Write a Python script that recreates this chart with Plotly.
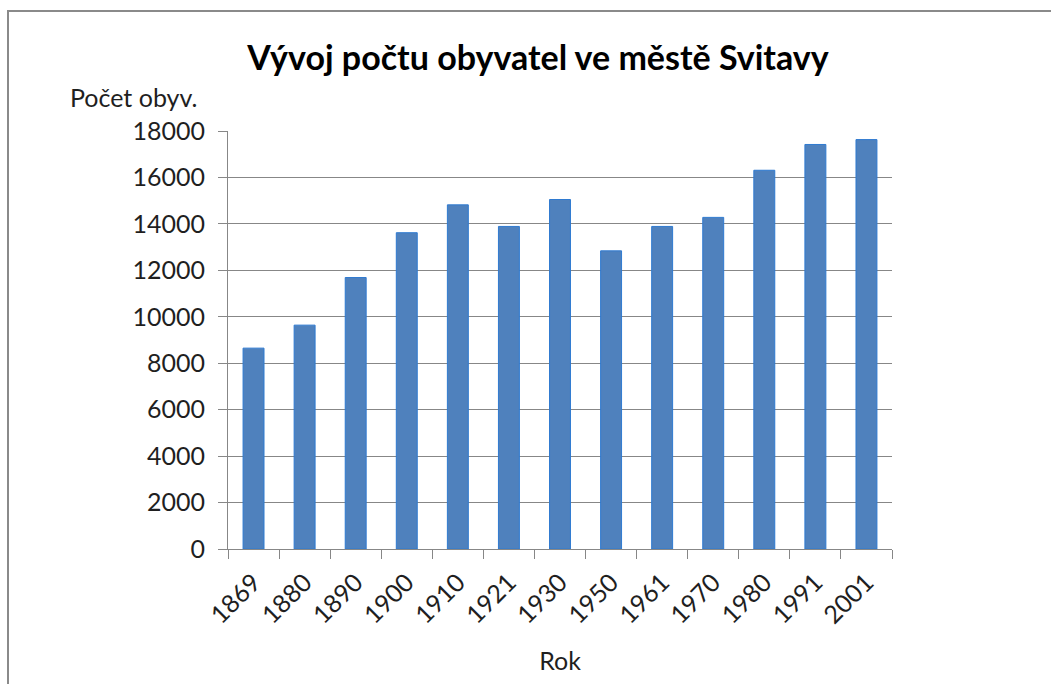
import plotly.graph_objects as go

years = ["1869", "1880", "1890", "1900", "1910", "1921", "1930", "1950", "1961", "1970", "1980", "1991", "2001"]
population = [8650, 9640, 11690, 13620, 14820, 13890, 15050, 12840, 13890, 14280, 16310, 17420, 17630]
y_ticks = [0, 2000, 4000, 6000, 8000, 10000, 12000, 14000, 16000, 18000]
y_labels = [str(v) for v in y_ticks]

title_text = "Vývoj počtu obyvatel ve městě Svitavy"
y_title = "Počet obyv."
x_title = "Rok"

W, H = 1051, 684
L, R, T, B = 228, 159, 131, 135
pw, ph = W - L - R, H - T - B

FONT = "Lato"
TXT = "#1f1f1f"
GRID = "#878787"
FS = 25

fig = go.Figure(go.Bar(
    x=years, y=population,
    marker=dict(color="#4F81BD", line=dict(color="#2f7ad0", width=1)),
    width=0.41,
))

def px_x(px):
    return (px - L) / pw

def px_y(py):
    return (H - B - py) / ph

fig.update_layout(
    width=W, height=H,
    margin=dict(l=L, r=R, t=T, b=B),
    paper_bgcolor="white", plot_bgcolor="white",
    showlegend=False,
    font=dict(family=FONT, color=TXT, size=FS),
    title=dict(text="<b>" + title_text + "</b>", x=px_x(538), xref="paper", xanchor="center",
               y=1 - 58 / H, yanchor="middle", font=dict(size=34, family=FONT, color="#000000")),
    xaxis=dict(
        type="category", tickson="boundaries", ticks="outside", ticklen=9, tickcolor=GRID,
        showline=True, linecolor=GRID, linewidth=1, showgrid=False,
        tickangle=-45, tickfont=dict(size=FS, family=FONT, color=TXT), ticklabelstandoff=8,
        title=dict(text=x_title, font=dict(size=FS, family=FONT, color=TXT), standoff=24),
    ),
    yaxis=dict(
        range=[0, 18000], tickvals=y_ticks, ticktext=y_labels, ticks="outside", ticklen=9, tickcolor=GRID,
        showline=True, linecolor=GRID, linewidth=1,
        showgrid=True, gridcolor=GRID, gridwidth=1, zeroline=False,
        tickfont=dict(size=FS, family=FONT, color=TXT), ticklabelstandoff=8,
    ),
    annotations=[dict(
        text=y_title, xref="paper", yref="paper", x=px_x(68), y=px_y(97),
        xanchor="left", yanchor="middle", showarrow=False,
        font=dict(size=FS, family=FONT, color=TXT),
    )],
    shapes=[dict(
        type="path", xref="paper", yref="paper",
        path=f"M {px_x(8)} {px_y(700)} L {px_x(8)} {px_y(11)} L {px_x(1060)} {px_y(11)}",
        line=dict(color="#8a8a8a", width=2),
    )],
)

fig.write_html("out.html", config={"displayModeBar": False},
               post_script="document.body.style.margin='0px';document.body.style.overflow='hidden';")
